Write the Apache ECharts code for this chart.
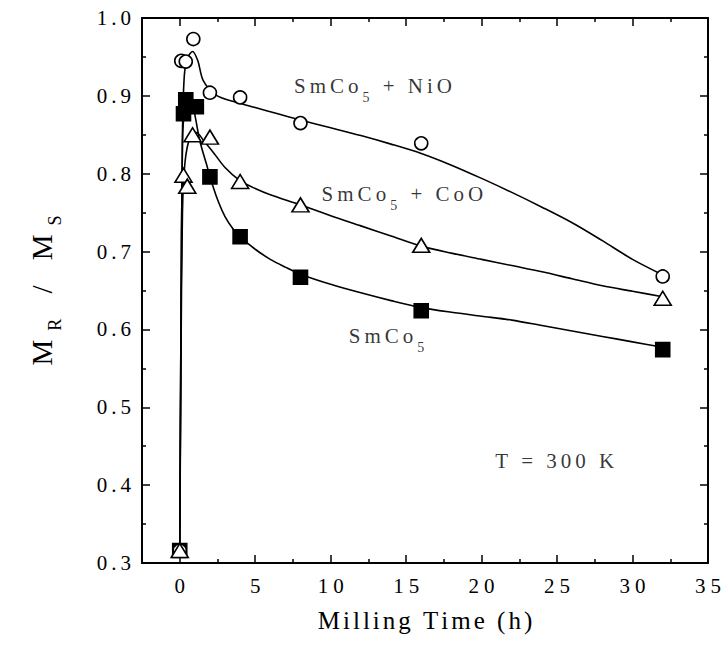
<!DOCTYPE html>
<html>
<head>
<meta charset="utf-8">
<script src="https://cdn.jsdelivr.net/npm/echarts@6/dist/echarts.min.js"></script>
<style>html,body{margin:0;padding:0;background:#fff}#c{width:724px;height:655px}</style>
</head>
<body>
<div id="c"></div>
<script>
// ---- data ----
const xMajorTicks = [0, 5, 10, 15, 20, 25, 30, 35];
const xMinorTicks = [2.5, 7.5, 12.5, 17.5, 22.5, 27.5, 32.5];

const timeNiO = [0, 0.1, 0.4, 0.9, 2, 4, 8, 16, 32];
const mrNiO   = [0.316, 0.945, 0.944, 0.973, 0.904, 0.898, 0.865, 0.839, 0.668];
const timeCoO = [0, 0.25, 0.5, 0.85, 2, 4, 8, 16, 32];
const mrCoO   = [0.316, 0.798, 0.784, 0.850, 0.847, 0.790, 0.760, 0.708, 0.640];
const timeSm  = [0, 0.25, 0.4, 1.1, 2, 4, 8, 16, 32];
const mrSm    = [0.316, 0.877, 0.895, 0.886, 0.796, 0.719, 0.667, 0.624, 0.574];

// fitted guide curves
const fitTimeNiO = [0, 0.08, 0.18, 0.3, 0.5, 0.85, 1.2, 1.55, 2.4, 3.7, 5, 6.5, 8, 10, 12, 14, 16, 18, 20, 22, 24, 26, 28, 30, 32];
const fitNiO     = [0.316, 0.6, 0.85, 0.925, 0.948, 0.957, 0.945, 0.92, 0.901, 0.892, 0.885, 0.877, 0.869, 0.859, 0.849, 0.838, 0.826, 0.811, 0.794, 0.776, 0.757, 0.737, 0.714, 0.690, 0.670];
const fitTimeCoO = [0, 0.08, 0.18, 0.35, 0.7, 1.1, 1.6, 2.2, 3, 4, 5, 6, 8, 10, 12, 14, 16, 18, 20, 22, 24, 26, 28, 30, 32];
const fitCoO     = [0.316, 0.55, 0.75, 0.815, 0.848, 0.853, 0.842, 0.828, 0.808, 0.791, 0.781, 0.773, 0.760, 0.746, 0.733, 0.720, 0.707, 0.698, 0.690, 0.682, 0.674, 0.665, 0.656, 0.649, 0.642];
const fitTimeSm  = [0, 0.08, 0.18, 0.35, 0.65, 0.95, 1.32, 1.76, 2.2, 2.6, 3, 3.5, 4, 5, 6, 7, 8, 10, 12, 14, 16, 18, 20, 22, 24, 26, 28, 30, 32];
const fitSm      = [0.316, 0.6, 0.84, 0.885, 0.895, 0.880, 0.843, 0.813, 0.784, 0.762, 0.745, 0.730, 0.719, 0.703, 0.690, 0.680, 0.671, 0.658, 0.647, 0.637, 0.628, 0.622, 0.617, 0.612, 0.605, 0.598, 0.591, 0.584, 0.577];

const annotationTexts = [['SmCo', '5', ' + NiO'], ['SmCo', '5', ' + CoO'], ['SmCo', '5', ''], ['T = 300 K', '', '']];
const annotationAnchors = [[7.57, 0.907], [9.4, 0.769], [11.2, 0.586], [20.9, 0.426]];

// ---- helpers ----
const FONT = 'Liberation Serif';
function spaced(str, cls, last) {
  const chars = str.split('');
  return chars.map((ch, i) => '{' + cls + (i === chars.length - 1 && last ? 'L' : '') + '|' + ch + '}').join('');
}
function richStyles(prefix, size, sp, subSize, subDrop) {
  const r = {};
  r[prefix] = { fontFamily: FONT, fontSize: size, color: '#000', padding: [0, sp, subDrop, 0], verticalAlign: 'bottom' };
  r[prefix + 'L'] = { fontFamily: FONT, fontSize: size, color: '#000', padding: [0, 0, subDrop, 0], verticalAlign: 'bottom' };
  r[prefix + 's'] = { fontFamily: FONT, fontSize: subSize, color: '#000', padding: [0, sp, 0, 0], verticalAlign: 'bottom' };
  r[prefix + 'sL'] = { fontFamily: FONT, fontSize: subSize, color: '#000', padding: [0, 0, 0, 0], verticalAlign: 'bottom' };
  return r;
}
function zip(a, b) { return a.map((v, i) => [v, b[i]]); }

const chart = echarts.init(document.getElementById('c'), null, { renderer: 'svg' });

const axisLineStyle = { color: '#000', width: 2 };
function xAxisDef(position, ticks, len, showLine, showLabel) {
  return {
    type: 'value', position: position, min: -2.5, max: 35,
    axisLine: { show: showLine, onZero: false, lineStyle: axisLineStyle },
    axisTick: { show: true, inside: true, length: len, customValues: ticks, lineStyle: { color: '#000', width: 1.5 } },
    axisLabel: showLabel ? {
      show: true, customValues: xMajorTicks, margin: 12,
      formatter: v => spaced(String(v), 't', true),
      rich: richStyles('t', 21, 5, 14, 0)
    } : { show: false },
    splitLine: { show: false }
  };
}
function yAxisDef(position, showLabel) {
  return {
    type: 'value', position: position, min: 0.3, max: 1.0, interval: 0.1,
    axisLine: { show: true, onZero: false, lineStyle: axisLineStyle },
    axisTick: { show: true, inside: true, length: 8, lineStyle: { color: '#000', width: 1.5 } },
    minorTick: { show: true, splitNumber: 2, length: 4, lineStyle: { color: '#000', width: 1.5 } },
    axisLabel: showLabel ? {
      show: true, margin: 11,
      formatter: v => spaced(v.toFixed(1), 't', true),
      rich: richStyles('t', 21, 4, 14, 0)
    } : { show: false },
    splitLine: { show: false }
  };
}

const xAxes = [
  xAxisDef('bottom', xMajorTicks, 8, true, true),
  xAxisDef('bottom', xMinorTicks, 4, false, false),
  xAxisDef('top', xMajorTicks, 8, true, false),
  xAxisDef('top', xMinorTicks, 4, false, false)
];
xAxes[0].name = spaced('Milling Time (h)', 'n', true);
xAxes[0].nameLocation = 'middle';
xAxes[0].nameGap = 45;
xAxes[0].nameTextStyle = { rich: richStyles('n', 25, 3, 16, 0) };

const yAxes = [yAxisDef('left', true), yAxisDef('right', false)];
yAxes[0].name = '{n|M}{ns|R}{n| }{n|/}{n| }{n|M}{nsL|S}';
yAxes[0].nameLocation = 'middle';
yAxes[0].nameRotate = 90;
yAxes[0].nameGap = 78;
yAxes[0].nameTextStyle = { rich: richStyles('n', 29, 9, 18, 8) };

function lineSeries(t, v) {
  return { type: 'line', data: zip(t, v), smooth: 0.3, showSymbol: false, symbol: 'none',
    lineStyle: { color: '#000', width: 1.6 }, z: 2, silent: true };
}
function markerSeries(t, v, sym, size, fill) {
  return { type: 'scatter', data: zip(t, v), symbol: sym, symbolSize: size,
    itemStyle: { color: fill, borderColor: '#000', borderWidth: 1.6, opacity: 1 }, z: 3, silent: true };
}

function annLabel(parts) {
  let s = spaced(parts[0], 'a', !parts[1] && !parts[2]);
  if (parts[1]) s += spaced(parts[1], 'as', !parts[2]);
  if (parts[2]) s += spaced(parts[2], 'a', true);
  return s;
}

const annSeries = annotationAnchors.map((p, i) => ({
  type: 'scatter', data: [p], symbolSize: 0, silent: true, z: 5,
  label: { show: true, position: 'right', distance: 0, formatter: () => annLabel(annotationTexts[i]),
    rich: richStyles('a', 21, 4, 14, 8) }
}));

chart.setOption({
  animation: false,
  backgroundColor: '#fff',
  grid: { left: 142, right: 12, top: 18, bottom: 92, containLabel: false },
  xAxis: xAxes,
  yAxis: yAxes,
  series: [
    lineSeries(fitTimeNiO, fitNiO),
    lineSeries(fitTimeCoO, fitCoO),
    lineSeries(fitTimeSm, fitSm),
    markerSeries(timeSm, mrSm, 'rect', 14, '#000'),
    markerSeries(timeNiO, mrNiO, 'circle', 13, '#fff'),
    markerSeries(timeCoO, mrCoO, 'triangle', [17, 14], '#fff')
  ].concat(annSeries)
});
</script>
</body>
</html>
